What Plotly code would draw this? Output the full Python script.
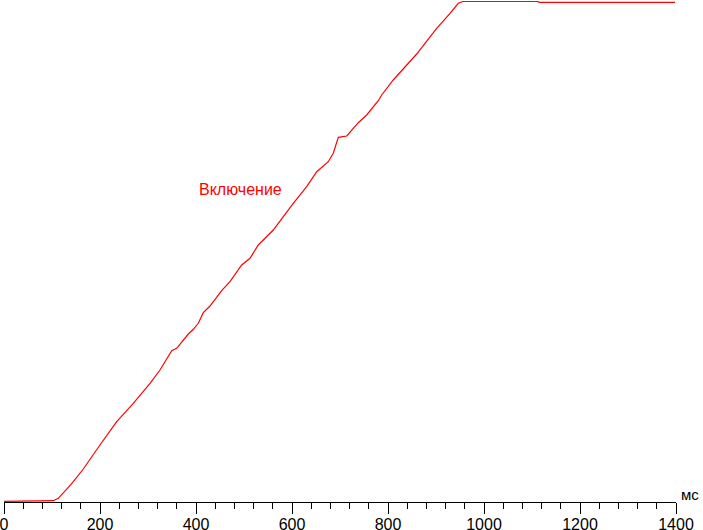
import plotly.graph_objects as go

# time, ms
time_ms = [0, 95.8, 102.7, 113.1, 123.5, 134, 144.4, 165.2, 200, 234.8, 269.4, 304.2,
           325, 340.2, 349.4, 359.8, 368.1, 384, 394.4, 404.8, 415.2, 429.2, 453.5,
           470.8, 495.2, 512.5, 529.8, 561, 581.9, 602.7, 630.6, 651.5, 675.6, 686,
           696.5, 714, 738.1, 755.6, 779.8, 786.9, 811, 849.4, 859.8, 877.1, 901.5,
           929.2, 946.5, 955.6, 1112.5, 1114.6, 1398]
# brightness, %
level = [0.14, 0.14, 0.26, 0.74, 1.74, 2.94, 4.06, 6.6, 11.4, 16.06, 19.74, 23.74,
         26.4, 28.74, 30.26, 30.74, 31.74, 33.6, 34.54, 35.74, 37.86, 39.2, 42.26,
         44.06, 47.4, 48.74, 51.4, 54.4, 57.06, 59.74, 63.06, 66.06, 68.06, 69.74,
         72.94, 73.2, 75.86, 77.4, 80.26, 81.4, 84.4, 88.4, 89.6, 91.74, 94.74,
         97.74, 99.74, 100.1, 100.1, 99.94, 99.94]

x_ticks = [0, 200, 400, 600, 800, 1000, 1200, 1400]

fig = go.Figure()
fig.add_trace(go.Scatter(x=time_ms, y=level, mode='lines',
                         line=dict(color='#ff0000', width=1.2),
                         showlegend=False, hoverinfo='skip'))

fig.add_annotation(x=491.7, y=62.6, text="Включение", showarrow=False,
                   font=dict(color='#ff0000', size=16))
fig.add_annotation(xref='paper', yref='paper', x=1.036, y=0.014,
                   text="мс", showarrow=False, xanchor='right', yanchor='middle',
                   borderpad=0,
                   font=dict(color='black', size=15))

fig.update_layout(
    width=703, height=530,
    margin=dict(l=4, r=27, t=0, b=28),
    paper_bgcolor='white',
    plot_bgcolor='white',
    font=dict(family='Liberation Sans, Arial, sans-serif', size=16, color='black'),
)
fig.update_xaxes(
    range=[0, 1400],
    tickvals=x_ticks,
    ticks='outside', ticklen=11, tickwidth=1, tickcolor='black',
    minor=dict(dtick=40, ticks='outside', ticklen=6, tickwidth=1, tickcolor='black'),
    showline=True, linecolor='black', linewidth=1,
    showgrid=False, zeroline=False,
    tickfont=dict(size=16),
    ticklabelstandoff=-3,
    automargin=False,
    ticklabeloverflow='allow',
)
fig.update_yaxes(range=[0, 100.4], visible=False, showgrid=False, zeroline=False,
                 automargin=False)

# page body has a default 8px margin; drop it so the figure sits at the corner
fig.write_html("out.html", config={'displayModeBar': False},
               post_script="document.body.style.margin='0';")
